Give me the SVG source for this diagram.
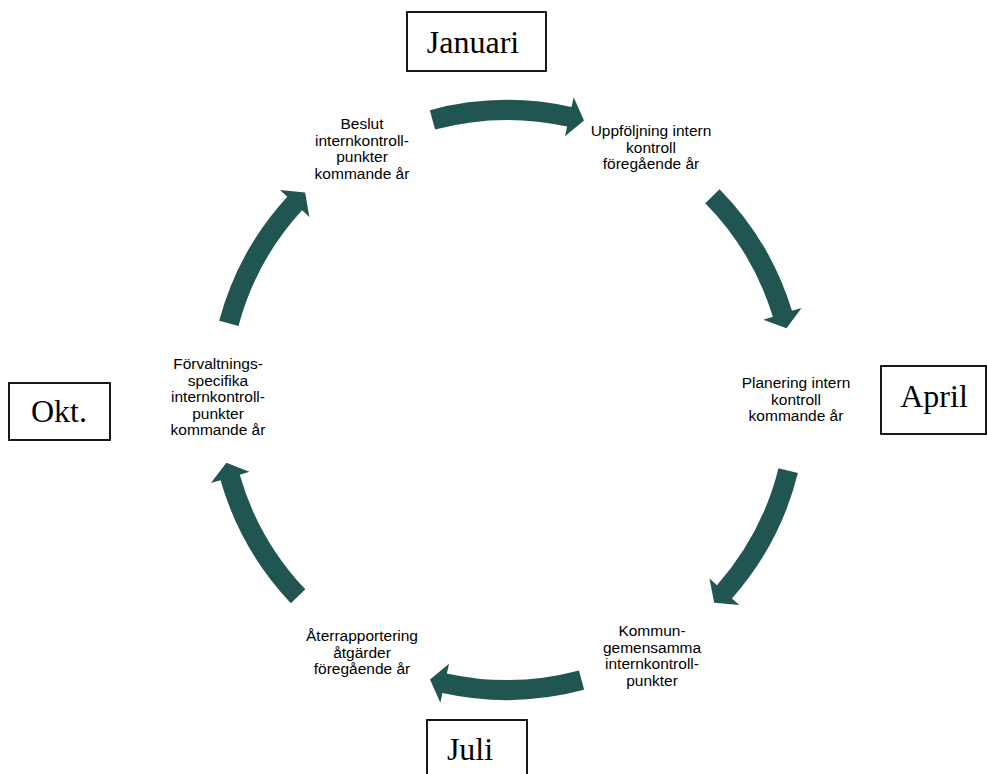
<svg xmlns="http://www.w3.org/2000/svg" xmlns:xlink="http://www.w3.org/1999/xlink" width="987" height="774" viewBox="0 0 987 774">
  <style>
    .lbl { font-family: "Liberation Sans", Arial, sans-serif; font-size: 15.5px; fill: #000; text-anchor: middle; }
    .mon { font-family: "Liberation Serif", "Times New Roman", serif; font-size: 32px; fill: #000; text-anchor: middle; }
    .box { fill: #fff; stroke: #000; stroke-width: 1.8; }
    .arr { fill: #215552; }
  </style>
  <defs>
    <path id="arc-arrow" d="M429.87,110.15 A298,298 0 0 1 571.50,107.06 L573.66,97.30 L583.97,120.47 L565.01,136.35 L567.17,126.59 A278,278 0 0 0 435.05,129.47 Z"/>
  </defs>
  <rect width="987" height="774" fill="#fff"/>

  <g id="connectors">
    <use xlink:href="#arc-arrow" class="arr"/>
    <use xlink:href="#arc-arrow" class="arr" transform="rotate(60.5 507 398)"/>
    <use xlink:href="#arc-arrow" class="arr" transform="rotate(119 507 400)"/>
    <use xlink:href="#arc-arrow" class="arr" transform="rotate(180 507 400)"/>
    <use xlink:href="#arc-arrow" class="arr" transform="rotate(241.5 507 398)"/>
    <use xlink:href="#arc-arrow" class="arr" transform="rotate(300 507 398)"/>
  </g>

  <g id="node-januari">
    <rect class="box" x="407" y="12" width="139" height="59"/>
    <text class="mon" x="473" y="53">Januari</text>
  </g>
  <g id="node-april">
    <rect class="box" x="881" y="366" width="105" height="68"/>
    <text class="mon" x="934" y="407">April</text>
  </g>
  <g id="node-juli">
    <rect class="box" x="427" y="720" width="100" height="60"/>
    <text class="mon" x="470" y="760">Juli</text>
  </g>
  <g id="node-okt">
    <rect class="box" x="9" y="383" width="101" height="57"/>
    <text class="mon" x="59" y="422">Okt.</text>
  </g>

  <g id="node-beslut">
    <text class="lbl" x="362" y="129">Beslut</text>
    <text class="lbl" x="362" y="145.5">internkontroll-</text>
    <text class="lbl" x="362" y="162">punkter</text>
    <text class="lbl" x="362" y="178.5">kommande år</text>
  </g>
  <g id="node-uppfoljning">
    <text class="lbl" x="651" y="136">Uppföljning intern</text>
    <text class="lbl" x="651" y="152.5">kontroll</text>
    <text class="lbl" x="651" y="169">föregående år</text>
  </g>
  <g id="node-planering">
    <text class="lbl" x="796" y="388">Planering intern</text>
    <text class="lbl" x="796" y="404.5">kontroll</text>
    <text class="lbl" x="796" y="421">kommande år</text>
  </g>
  <g id="node-kommun">
    <text class="lbl" x="652" y="636">Kommun-</text>
    <text class="lbl" x="652" y="652.5">gemensamma</text>
    <text class="lbl" x="652" y="669">internkontroll-</text>
    <text class="lbl" x="652" y="685.5">punkter</text>
  </g>
  <g id="node-aterrapportering">
    <text class="lbl" x="362" y="641">Återrapportering</text>
    <text class="lbl" x="362" y="657.5">åtgärder</text>
    <text class="lbl" x="362" y="674">föregående år</text>
  </g>
  <g id="node-forvaltning">
    <text class="lbl" x="218" y="369">Förvaltnings-</text>
    <text class="lbl" x="218" y="385.5">specifika</text>
    <text class="lbl" x="218" y="402">internkontroll-</text>
    <text class="lbl" x="218" y="418.5">punkter</text>
    <text class="lbl" x="218" y="435">kommande år</text>
  </g>
</svg>
